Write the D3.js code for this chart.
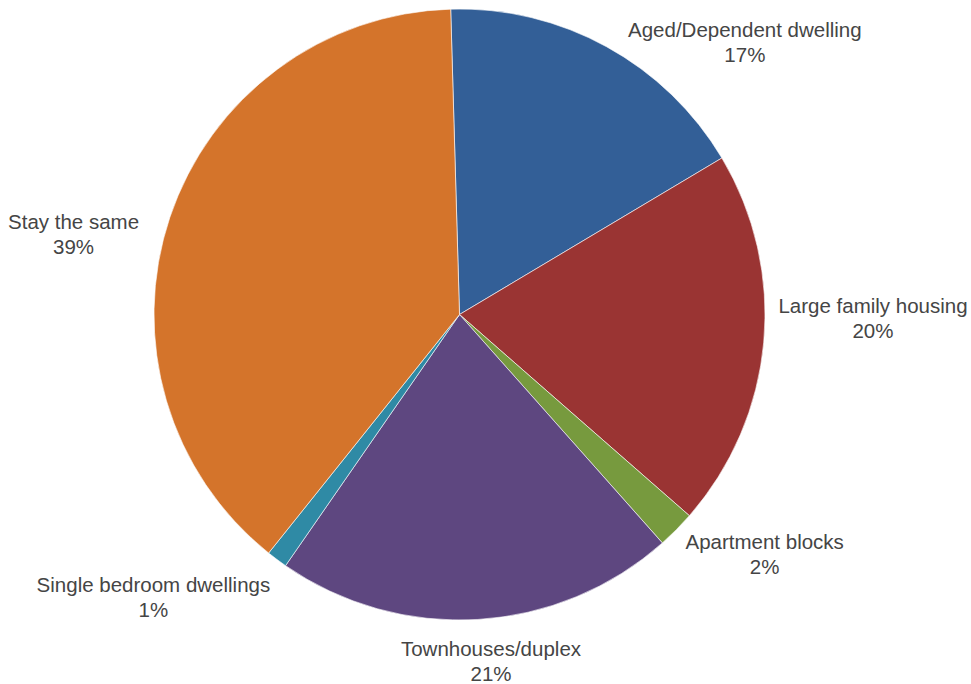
<!DOCTYPE html>
<html>
<head>
<meta charset="utf-8">
<script src="https://cdn.jsdelivr.net/npm/d3@7"></script>
<style>
  html, body { margin: 0; padding: 0; background: #fff; }
  svg text { font-family: "Liberation Sans", Arial, sans-serif; fill: #454545; }
</style>
</head>
<body>
<div id="chart"></div>
<script>
// data, clockwise from 12 o'clock
const categories = ["Aged/Dependent dwelling", "Large family housing", "Apartment blocks",
                    "Townhouses/duplex", "Single bedroom dwellings", "Stay the same"];
const shares = [16.9, 20.0, 2.0, 21.2, 1.1, 38.8];
const pctLabels = ["17%", "20%", "2%", "21%", "1%", "39%"];

// layout
const width = 971, height = 684;
const cx = 459.5, cy = 314.5, radius = 305.5;
const startDeg = -1.65;
const colors = ["#335f97", "#9a3433", "#779a3e", "#5e4780", "#2f8aa5", "#d4742b"];
// label placement (angle in degrees from 12 o'clock, distance from centre)
const labelPlace = [[46.3, 394.7], [90.5, 413.5], [128.1, 387.8],
                    [174.8, 347.5], [227.3, 416.5], [281.8, 394.3]];

const rad = d => d * Math.PI / 180;

const svg = d3.select("#chart").append("svg")
    .attr("width", width)
    .attr("height", height);

const g = svg.append("g")
    .attr("transform", "translate(" + cx + "," + cy + ")");

const pie = d3.pie()
    .sort(null)
    .value(d => d.value)
    .startAngle(rad(startDeg))
    .endAngle(rad(startDeg + 360));

const rows = categories.map((c, i) => ({name: c, value: shares[i], pct: pctLabels[i], i: i}));
const arcs = pie(rows);

const arc = d3.arc().innerRadius(0).outerRadius(radius);

g.selectAll("path.slice")
    .data(arcs)
    .enter()
    .append("path")
    .attr("class", "slice")
    .attr("d", arc)
    .attr("fill", d => colors[d.data.i])
    .attr("stroke", "#ffffff")
    .attr("stroke-width", 0.6);

const lineH = 25, fontSize = 20.5;

const labels = g.selectAll("text.lbl")
    .data(arcs)
    .enter()
    .append("text")
    .attr("class", "lbl")
    .attr("text-anchor", "middle")
    .style("font-size", fontSize + "px")
    .attr("transform", function(d){
        const p = labelPlace[d.data.i];
        const a = rad(p[0]);
        const x = p[1] * Math.sin(a);
        const y = -p[1] * Math.cos(a);
        // block is two lines; shift so the visual centre sits at (x, y)
        return "translate(" + x + "," + (y - 5) + ")";
    });

labels.append("tspan")
    .attr("x", 0)
    .attr("y", 0)
    .text(d => d.data.name);

labels.append("tspan")
    .attr("x", 0)
    .attr("y", lineH)
    .text(d => d.data.pct);
</script>
</body>
</html>
